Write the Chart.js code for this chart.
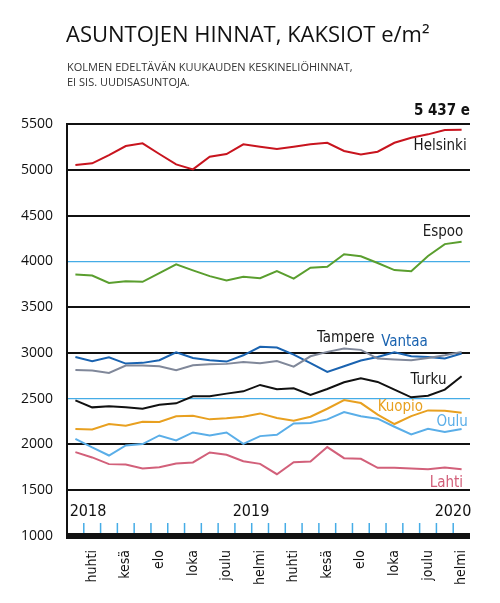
<!DOCTYPE html>
<html>
<head>
<meta charset="utf-8">
<script src="https://cdn.jsdelivr.net/npm/chart.js@4"></script>
<style>
  html, body { margin: 0; padding: 0; background: #fff; }
  #wrap { width: 500px; height: 603px; position: relative; }
</style>
</head>
<body>
<div id="wrap"><canvas id="kaavio"></canvas></div>
<script>
// Kuukaudet maaliskuu 2018 – helmikuu 2020
const KUUKAUDET = ['maalis', 'huhti', 'touko', 'kesä', 'heinä', 'elo', 'syys', 'loka', 'marras', 'joulu', 'tammi', 'helmi',
                   'maalis', 'huhti', 'touko', 'kesä', 'heinä', 'elo', 'syys', 'loka', 'marras', 'joulu', 'tammi', 'helmi'];

const HELSINKI = [5051, 5070, 5161, 5259, 5289, 5172, 5059, 5004, 5142, 5172, 5278, 5252, 5226, 5252, 5278, 5295, 5205, 5168, 5197, 5295, 5350, 5387, 5434, 5437];
const ESPOO = [3857, 3845, 3764, 3783, 3776, 3871, 3967, 3901, 3838, 3790, 3831, 3816, 3893, 3812, 3930, 3941, 4077, 4055, 3982, 3904, 3893, 4059, 4188, 4213];
const VANTAA = [2956, 2909, 2953, 2883, 2891, 2920, 3007, 2945, 2920, 2905, 2974, 3066, 3058, 2982, 2887, 2792, 2854, 2916, 2956, 3007, 2964, 2956, 2938, 2993];
const TAMPERE = [2814, 2807, 2781, 2861, 2861, 2854, 2810, 2865, 2876, 2880, 2901, 2887, 2912, 2850, 2963, 3011, 3047, 3033, 2938, 2927, 2920, 2945, 2974, 3011];
const TURKU = [2482, 2405, 2416, 2405, 2391, 2434, 2449, 2526, 2526, 2555, 2580, 2650, 2602, 2613, 2540, 2606, 2679, 2723, 2683, 2599, 2515, 2533, 2599, 2745];
const KUOPIO = [2168, 2164, 2223, 2204, 2248, 2245, 2307, 2314, 2274, 2285, 2303, 2339, 2288, 2259, 2303, 2390, 2485, 2452, 2325, 2223, 2310, 2372, 2369, 2347];
const OULU = [2062, 1967, 1879, 1989, 2004, 2098, 2044, 2131, 2098, 2131, 2007, 2091, 2106, 2230, 2234, 2274, 2354, 2307, 2281, 2193, 2109, 2171, 2135, 2168];
const LAHTI = [1916, 1858, 1785, 1781, 1738, 1752, 1792, 1803, 1912, 1887, 1817, 1788, 1675, 1806, 1814, 1971, 1850, 1843, 1745, 1745, 1738, 1730, 1748, 1730];

const VUODET = [{ teksti: '2018', x: 88 }, { teksti: '2019', x: 251 }, { teksti: '2020', x: 453 }];

const KAPEA = "'Liberation Sans Narrow', 'DejaVu Sans Condensed', sans-serif";
const SININEN = '#45ace6';

// Kaupunkien nimet: [teksti, väri, kohdistus, x-indeksi, arvo]
const NIMET = [
    ['Helsinki', '#1a1a1a', 'right', 23.3, 5270],
    ['Espoo', '#1a1a1a', 'right', 23.1, 4330],
    ['Tampere', '#1a1a1a', 'center', 16.1, 3170],
    ['Vantaa', '#1a63b0', 'center', 19.6, 3128],
    ['Turku', '#1a1a1a', 'right', 22.1, 2720],
    ['Kuopio', '#e8a020', 'left', 18.0, 2415],
    ['Oulu', '#5aaee8', 'left', 21.5, 2260],
    ['Lahti', '#d2607a', 'left', 21.1, 1595]
];

const tekstit = {
    id: 'tekstit',
    afterDraw(chart) {
        const c = chart.ctx;
        const x = chart.scales.x, y = chart.scales.y;
        c.save();
        c.fillStyle = '#111';
        c.textBaseline = 'alphabetic';
        c.textAlign = 'left';
        c.font = "500 22px 'Open Sans', sans-serif";
        c.fillText('ASUNTOJEN HINNAT, KAKSIOT e/m²', 66, 42);
        c.font = "11px 'Open Sans', sans-serif";
        c.fillStyle = '#333';
        c.fillText('KOLMEN EDELTÄVÄN KUUKAUDEN KESKINELIÖHINNAT,', 67, 71);
        c.fillText('EI SIS. UUDISASUNTOJA.', 67, 86);

        c.fillStyle = '#111';
        c.textAlign = 'right';
        c.font = 'bold 15px ' + KAPEA;
        c.fillText('5 437 e', 470, 115);

        // vuodet
        c.font = '16px ' + KAPEA;
        c.textAlign = 'center';
        VUODET.forEach(v => c.fillText(v.teksti, v.x, 516));

        // siniset kuukausiviivat
        c.strokeStyle = SININEN;
        c.lineWidth = 1.5;
        for (let i = 0; i < KUUKAUDET.length - 1; i++) {
            const px = (x.getPixelForValue(i) + x.getPixelForValue(i + 1)) / 2;
            c.beginPath();
            c.moveTo(px, y.bottom - 3);
            c.lineTo(px, y.bottom - 13);
            c.stroke();
        }

        // kaupunkien nimet
        c.font = '15px ' + KAPEA;
        NIMET.forEach(([t, vari, kohd, xi, arvo]) => {
            c.fillStyle = vari;
            c.textAlign = kohd;
            c.fillText(t, x.getPixelForValue(xi), y.getPixelForValue(arvo) + 5);
        });
        c.restore();
    }
};

function sarja(data, vari) {
    return { data, borderColor: vari, borderWidth: 2, pointRadius: 0, tension: 0, fill: false };
}

new Chart(document.getElementById('kaavio'), {
    type: 'line',
    data: {
        labels: KUUKAUDET,
        datasets: [
            sarja(LAHTI, '#d2607a'),
            sarja(OULU, '#5aaee8'),
            sarja(KUOPIO, '#e8a020'),
            sarja(TURKU, '#111111'),
            sarja(TAMPERE, '#80889a'),
            sarja(VANTAA, '#1a63b0'),
            sarja(ESPOO, '#5a9e2e'),
            sarja(HELSINKI, '#c8141e')
        ]
    },
    options: {
        responsive: true,
        maintainAspectRatio: false,
        animation: false,
        layout: { padding: { top: 124, right: 30, left: 0, bottom: 0 } },
        plugins: { legend: { display: false }, tooltip: { enabled: false } },
        scales: {
            x: {
                offset: true,
                afterFit: (s) => { s.height = 67; },
                grid: { display: false, offset: true },
                border: { display: false },
                ticks: {
                    autoSkip: false,
                    minRotation: 90,
                    maxRotation: 90,
                    padding: 6,
                    color: '#111',
                    font: { family: KAPEA, size: 14 },
                    callback: (v, i) => (i % 2 === 1 ? KUUKAUDET[i] : '')
                }
            },
            y: {
                min: 1000,
                max: 5500,
                afterFit: (s) => { s.width = 67; },
                ticks: {
                    stepSize: 500,
                    padding: 14,
                    color: '#111',
                    font: { family: "'Open Sans', sans-serif", size: 14 },
                    callback: (v) => String(v)
                },
                grid: {
                    drawTicks: false,
                    color: (ctx) => (ctx.tick && (ctx.tick.value === 4000 || ctx.tick.value === 2500)) ? SININEN : '#111',
                    lineWidth: (ctx) => {
                        const v = ctx.tick && ctx.tick.value;
                        if (v === 1000) return 6;
                        if (v === 4000 || v === 2500) return 1.2;
                        return 2;
                    }
                },
                border: { color: '#111', width: 2 }
            }
        }
    },
    plugins: [tekstit]
});
</script>
</body>
</html>
